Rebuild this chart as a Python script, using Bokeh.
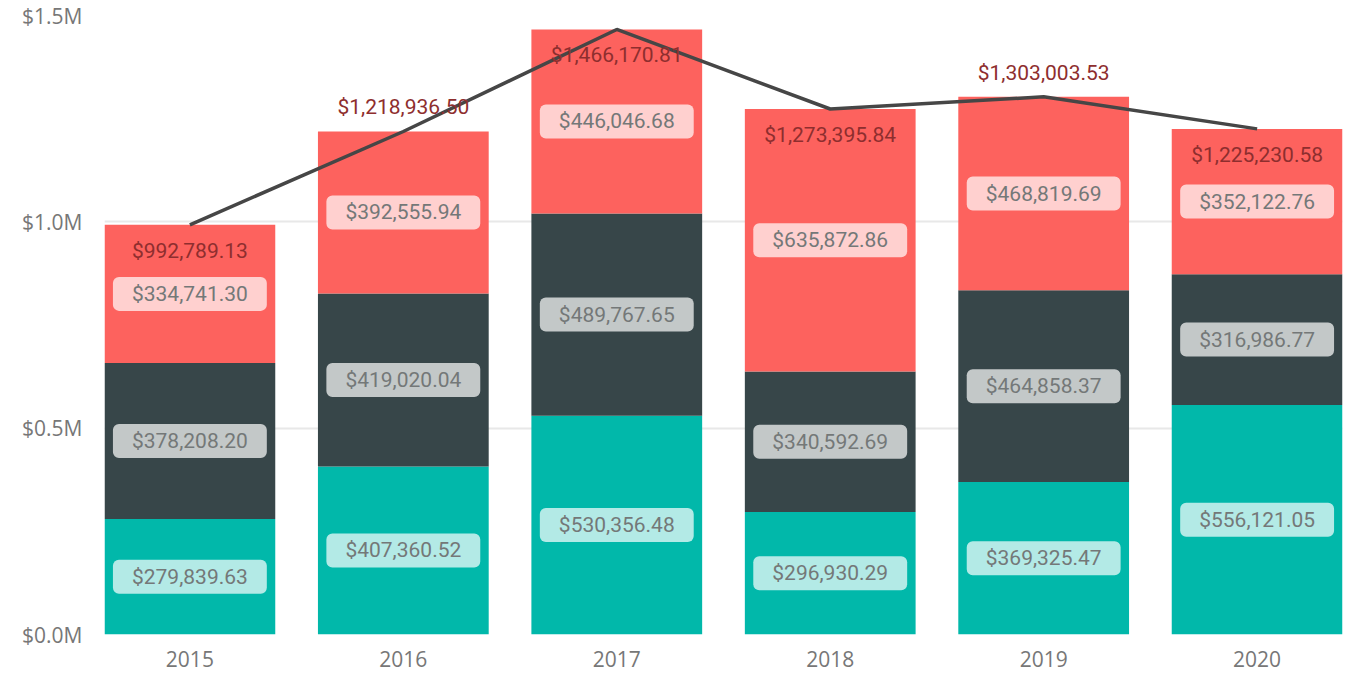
from bokeh.plotting import figure
from bokeh.models import ColumnDataSource, FixedTicker, Range1d, CustomJSTickFormatter
from bokeh.core.properties import value
from bokeh.embed import file_html
from bokeh.resources import INLINE

years = ["2015", "2016", "2017", "2018", "2019", "2020"]
seg_teal = [279839.63, 407360.52, 530356.48, 296930.29, 369325.47, 556121.05]
seg_dark = [378208.20, 419020.04, 489767.65, 340592.69, 464858.37, 316986.77]
seg_coral = [334741.30, 392555.94, 446046.68, 635872.86, 468819.69, 352122.76]
total_label_above = [False, True, False, False, True, False]
y_ticks = [0, 500000, 1000000, 1500000]

colors = ["#01B8AA", "#374649", "#FD625E"]
totals = [a + b + c for a, b, c in zip(seg_teal, seg_dark, seg_coral)]
xs = list(range(len(years)))

def money(v):
    return "${:,.2f}".format(v)

p = figure(frame_width=1238, frame_height=619, output_backend="svg", toolbar_location=None,
           x_range=Range1d(-0.4, 5.4), y_range=Range1d(0, 1500000),
           min_border_left=104, min_border_right=4, min_border_top=15, min_border_bottom=40)
p.outline_line_color = None
p.background_fill_color = "white"
p.border_fill_color = "white"

bottoms = [0.0] * len(years)
for seg, col in zip([seg_teal, seg_dark, seg_coral], colors):
    tops = [b + v for b, v in zip(bottoms, seg)]
    src = ColumnDataSource(dict(x=xs, bottom=bottoms, top=tops,
                                mid=[(b + t) / 2 for b, t in zip(bottoms, tops)],
                                label=[money(v) for v in seg]))
    p.vbar(x="x", width=0.8, bottom="bottom", top="top", source=src,
           fill_color=col, line_color=None)
    p.text(x="x", y="mid", text="label", source=src, text_align="center",
           text_baseline="middle", text_font=value("Roboto"), text_font_size="21px",
           text_color="#747878",
           background_fill_color="white", background_fill_alpha=0.7,
           border_radius=6, padding=dict(left=19, right=19, top=5, bottom=5))
    bottoms = tops

# total line
p.line(xs, totals, line_color="#464646", line_width=3.5)

tsrc = ColumnDataSource(dict(x=xs, y=totals, label=[money(v) for v in totals],
                             off=[-24 if a else 26 for a in total_label_above]))
p.text(x="x", y="y", text="label", y_offset="off", source=tsrc, text_align="center",
       text_baseline="middle", text_font=value("Roboto"), text_font_size="21px",
       text_color="#8E2E2E")

# axes
p.xaxis.ticker = FixedTicker(ticks=xs)
p.xaxis.major_label_overrides = {i: y for i, y in enumerate(years)}
p.yaxis.ticker = FixedTicker(ticks=y_ticks)
p.yaxis.formatter = CustomJSTickFormatter(code="return '$' + (tick/1000000).toFixed(1) + 'M';")
for ax in (p.xaxis, p.yaxis):
    ax.axis_line_color = None
    ax.major_tick_line_color = None
    ax.minor_tick_line_color = None
    ax.major_label_text_font = "Open Sans"
    ax.major_label_text_font_size = "21px"
    ax.major_label_text_color = "#777777"
p.xaxis.major_label_standoff = 10
p.yaxis.major_label_standoff = 16
p.xgrid.grid_line_color = None
p.ygrid.grid_line_color = "#E8E8E8"
p.ygrid.grid_line_width = 2
p.ygrid.level = "underlay"

open("out.html", "w").write(file_html(p, INLINE))
